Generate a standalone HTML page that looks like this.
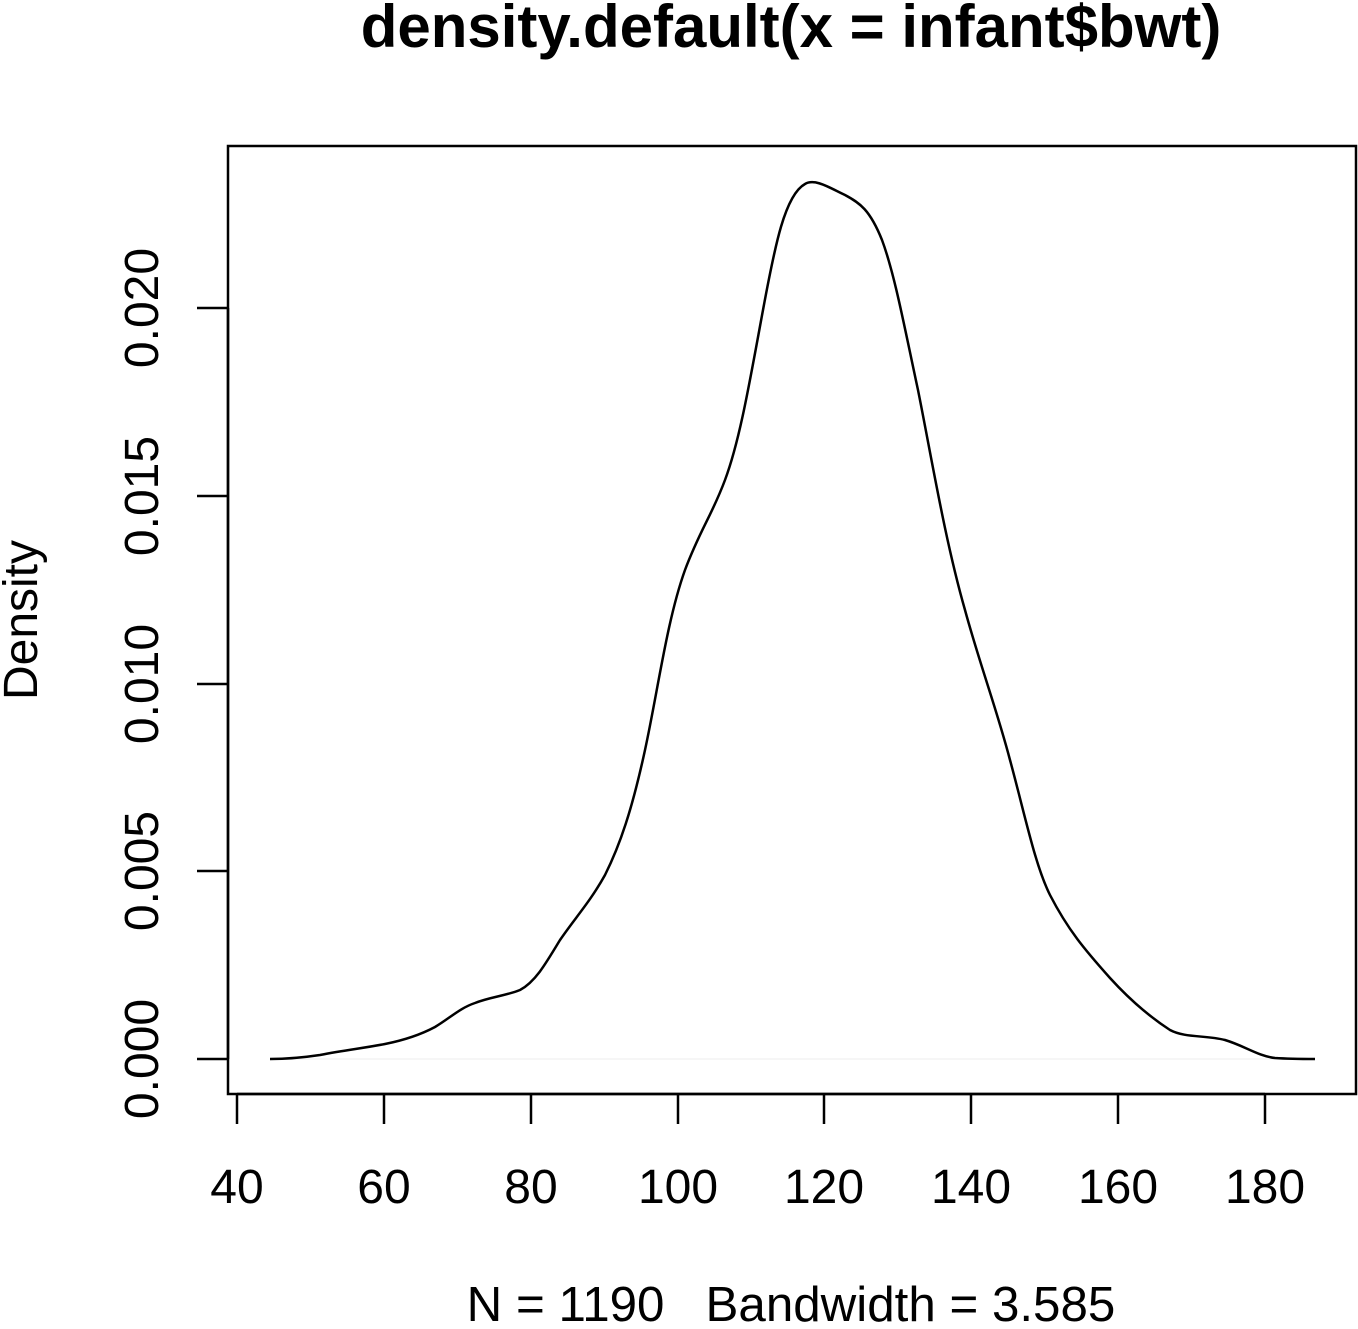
<!DOCTYPE html>
<html><head><style>
body{margin:0;background:#fff}
svg text{font-family:"Liberation Sans",sans-serif;fill:#000;white-space:pre}
</style></head><body>
<svg width="1358" height="1324" xmlns="http://www.w3.org/2000/svg">
<rect x="228" y="146" width="1128" height="948" fill="none" stroke="#000" stroke-width="2.5"/>
<text x="791" y="47" font-size="60" font-weight="bold" text-anchor="middle">density.default(x = infant$bwt)</text>
<g stroke="#000" stroke-width="2.5">
<line x1="237" y1="1094" x2="1265" y2="1094"/>
<line x1="237" y1="1094" x2="237" y2="1124"/>
<line x1="384" y1="1094" x2="384" y2="1124"/>
<line x1="531" y1="1094" x2="531" y2="1124"/>
<line x1="678" y1="1094" x2="678" y2="1124"/>
<line x1="824" y1="1094" x2="824" y2="1124"/>
<line x1="971" y1="1094" x2="971" y2="1124"/>
<line x1="1118" y1="1094" x2="1118" y2="1124"/>
<line x1="1265" y1="1094" x2="1265" y2="1124"/>
<line x1="228" y1="1059" x2="228" y2="308"/>
<line x1="197" y1="1059" x2="228" y2="1059"/>
<line x1="197" y1="871" x2="228" y2="871"/>
<line x1="197" y1="684" x2="228" y2="684"/>
<line x1="197" y1="496" x2="228" y2="496"/>
<line x1="197" y1="308" x2="228" y2="308"/>
</g>
<g font-size="48" text-anchor="middle">
<text x="237" y="1203">40</text><text x="384" y="1203">60</text><text x="531" y="1203">80</text>
<text x="678" y="1203">100</text><text x="824" y="1203">120</text><text x="971" y="1203">140</text>
<text x="1118" y="1203">160</text><text x="1265" y="1203">180</text>
<text transform="translate(158,1059) rotate(-90)">0.000</text>
<text transform="translate(158,871) rotate(-90)">0.005</text>
<text transform="translate(158,684) rotate(-90)">0.010</text>
<text transform="translate(158,496) rotate(-90)">0.015</text>
<text transform="translate(158,308) rotate(-90)">0.020</text>
<text transform="translate(37,620) rotate(-90)">Density</text>
<text x="791" y="1321" font-size="49.3">N = 1190   Bandwidth = 3.585</text>
</g>
<line x1="270" y1="1059" x2="1315" y2="1059" stroke="#eee" stroke-width="1"/>
<path fill="none" stroke="#000" stroke-width="2.5" d="M270,1059 C285,1059 300,1058 320,1055 C345,1050 365,1048 385,1044 C405,1040 420,1035 435,1027 C450,1018 460,1008 475,1003 C490,997 505,996 520,990 C535,982 545,965 560,940 C575,918 590,902 605,875 C620,845 632,810 645,750 C658,690 667,620 685,570 C700,530 712,515 725,480 C740,440 750,380 763,310 C775,245 785,195 805,184 C815,178 830,188 845,195 C860,203 870,210 882,240 C895,275 905,330 918,390 C932,460 945,540 965,610 C980,665 997,710 1010,760 C1025,815 1035,865 1050,895 C1068,930 1085,950 1110,978 C1130,1000 1150,1017 1170,1030 C1185,1038 1205,1035 1225,1040 C1245,1046 1258,1056 1275,1058 C1290,1059 1305,1059 1315,1059"/>
</svg>
</body></html>
